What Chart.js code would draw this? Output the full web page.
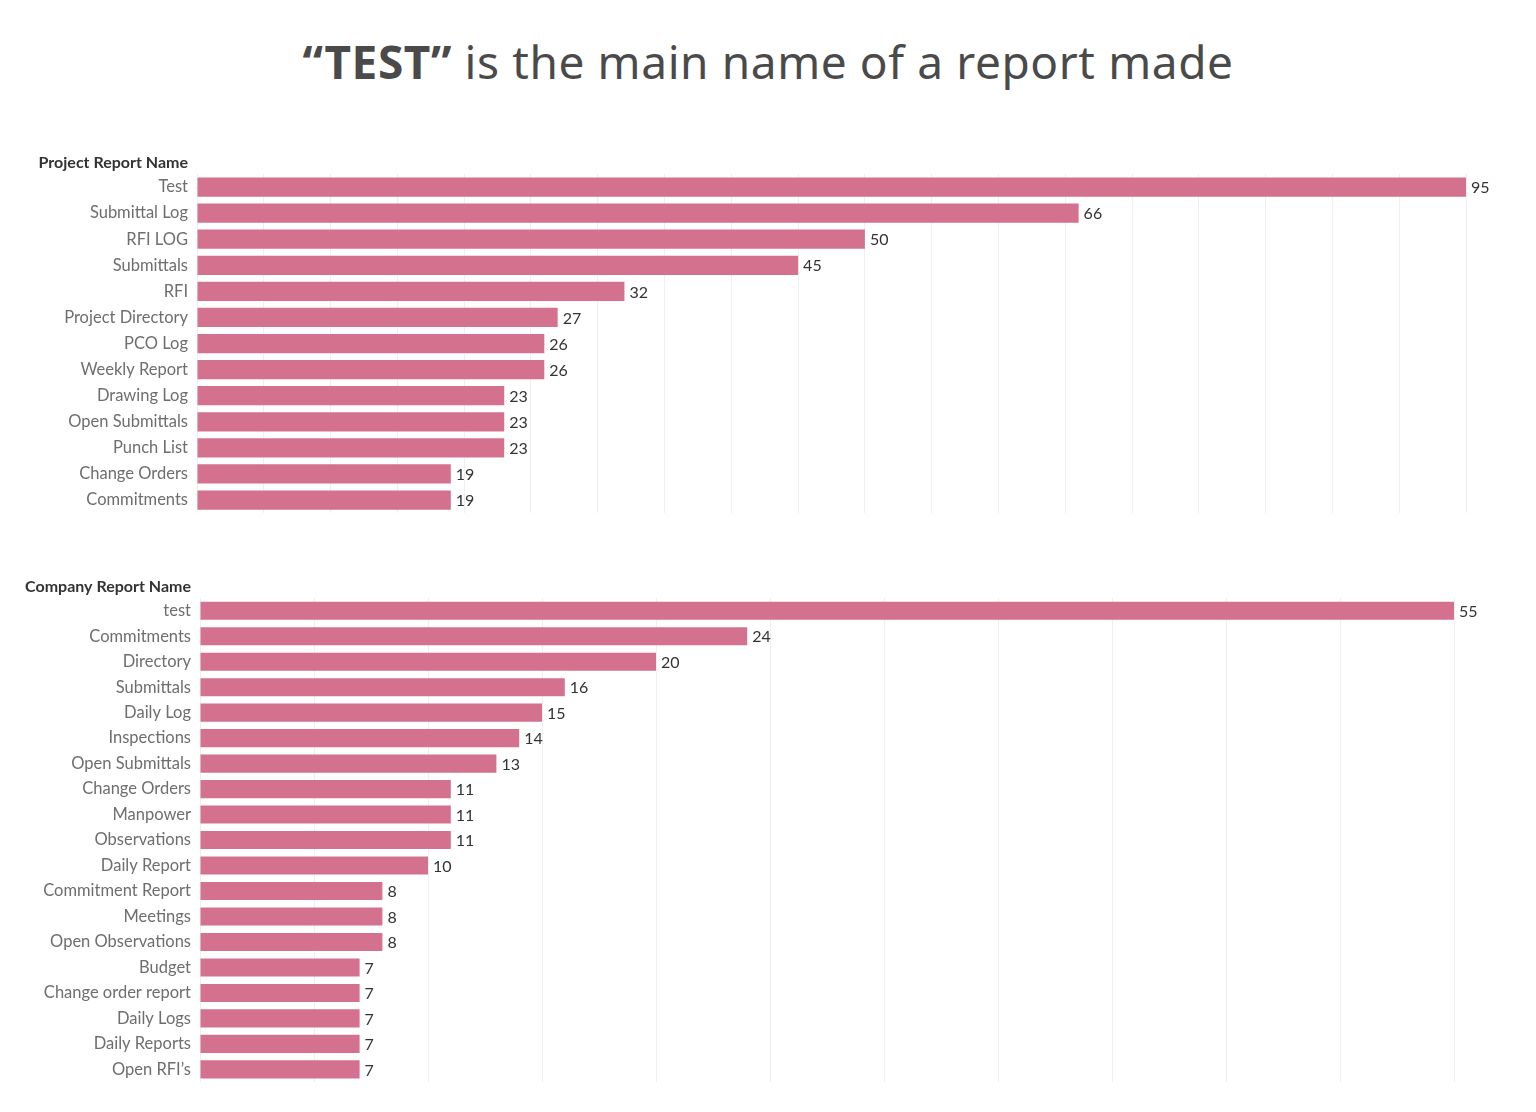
<!DOCTYPE html>
<html>
<head>
<meta charset="utf-8">
<script src="https://cdn.jsdelivr.net/npm/chart.js@4/dist/chart.umd.min.js"></script>
<style>
    body { margin: 0; background: #fff; width: 1536px; height: 1112px; position: relative; overflow: hidden; }
    .title { position: absolute; left: 0; top: 30px; width: 1536px; text-align: center; font-family: "Noto Sans", sans-serif; font-size: 46px; color: #4a4a4a; letter-spacing: 0.6px; }
    .title b { font-weight: 700; }
    .box { position: absolute; left: 0; width: 1536px; }
</style>
</head>
<body>
<div class="title"><b>“TEST”</b> is the main name of a report made</div>
<div class="box" style="top:150px;height:382px"><canvas id="projectChart"></canvas></div>
<div class="box" style="top:574px;height:527px"><canvas id="companyChart"></canvas></div>
<script>
var projectLabels = ["Test", "Submittal Log", "RFI LOG", "Submittals", "RFI", "Project Directory", "PCO Log",
    "Weekly Report", "Drawing Log", "Open Submittals", "Punch List", "Change Orders", "Commitments"];
var projectCounts = [95, 66, 50, 45, 32, 27, 26, 26, 23, 23, 23, 19, 19];

var companyLabels = ["test", "Commitments", "Directory", "Submittals", "Daily Log", "Inspections", "Open Submittals",
    "Change Orders", "Manpower", "Observations", "Daily Report", "Commitment Report", "Meetings",
    "Open Observations", "Budget", "Change order report", "Daily Logs", "Daily Reports", "Open RFI’s"];
var companyCounts = [55, 24, 20, 16, 15, 14, 13, 11, 11, 11, 10, 8, 8, 8, 7, 7, 7, 7, 7];

var barColor = "#d3718f";
var labelFont = "Lato, 'Noto Sans', sans-serif";

// value at the end of each bar + the header above the category labels
var barLabels = {
    id: "barLabels",
    afterDatasetsDraw: function(chart) {
        var ctx = chart.ctx;
        var meta = chart.getDatasetMeta(0);
        var values = chart.data.datasets[0].data;
        ctx.save();
        ctx.font = "16px " + labelFont;
        ctx.fillStyle = "#333";
        ctx.textAlign = "left";
        ctx.textBaseline = "middle";
        meta.data.forEach(function(bar, i) {
            ctx.fillText(values[i], bar.x + 5, bar.y + 1);
        });
        ctx.font = "bold 16px " + labelFont;
        ctx.fillStyle = "#333";
        ctx.textAlign = "right";
        ctx.fillText(chart.options.plugins.barLabels.header, chart.chartArea.left - 9, chart.chartArea.top - 11);
        ctx.restore();
    }
};

function makeChart(id, labels, values, opts) {
    return new Chart(document.getElementById(id), {
        type: "bar",
        data: {
            labels: labels,
            datasets: [{
                data: values,
                backgroundColor: barColor,
                borderWidth: 0,
                categoryPercentage: 1,
                barPercentage: opts.barPercentage
            }]
        },
        options: {
            indexAxis: "y",
            responsive: true,
            maintainAspectRatio: false,
            animation: false,
            layout: { padding: { top: 24, right: opts.rightPad, bottom: opts.bottomPad, left: 0 } },
            plugins: {
                legend: { display: false },
                tooltip: { enabled: false },
                barLabels: { header: opts.header }
            },
            scales: {
                x: {
                    min: 0,
                    max: opts.max,
                    border: { display: false },
                    grid: { color: "#efefef", lineWidth: 1, drawTicks: false },
                    ticks: { display: false, stepSize: 5 }
                },
                y: {
                    border: { display: false },
                    grid: { display: false, drawTicks: false },
                    ticks: {
                        color: "#6e6e6e",
                        padding: 9,
                        autoSkip: false,
                        font: { family: labelFont, size: 16.5 }
                    },
                    afterFit: function(scale) { scale.width = opts.axisWidth; }
                }
            }
        },
        plugins: [barLabels]
    });
}

makeChart("projectChart", projectLabels, projectCounts, {
    header: "Project Report Name", max: 95, rightPad: 70, bottomPad: 8, axisWidth: 197, barPercentage: 0.74
});
makeChart("companyChart", companyLabels, companyCounts, {
    header: "Company Report Name", max: 55, rightPad: 82, bottomPad: 4, axisWidth: 200, barPercentage: 0.71
});
</script>
</body>
</html>
